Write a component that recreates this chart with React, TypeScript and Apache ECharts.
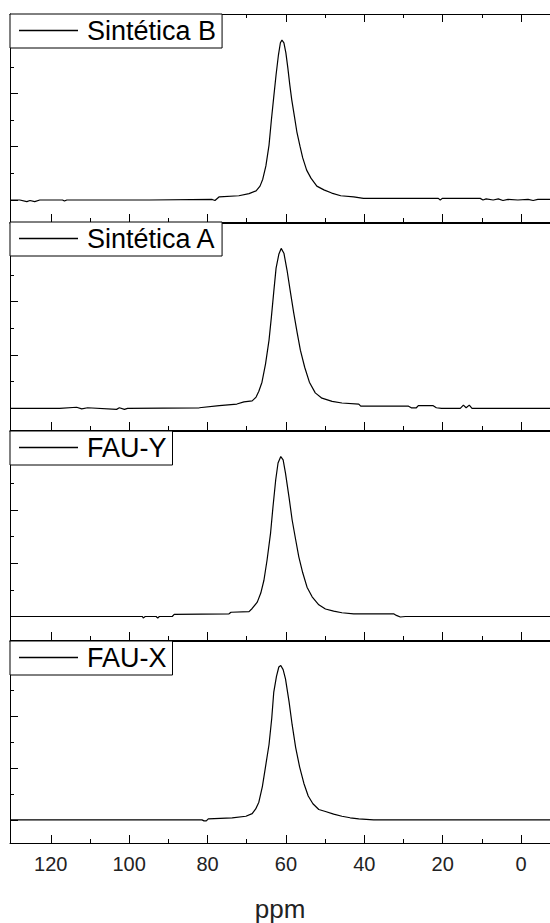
import React, { useEffect, useRef } from "react";
import * as echarts from "echarts";

// 29Si MAS-NMR style spectra, chemical shift (ppm) vs. intensity (a.u.)
const sampleNames = ["Sintética B", "Sintética A", "FAU-Y", "FAU-X"];

const sinteticaB: [number, number][] = [
  [130.4, 0], [127.9, 0], [126.1, -0.03], [125.3, -0.01], [124.1, -0.03], [122.8, 0],
  [117.0, 0], [116.5, -0.02], [115.9, 0], [94.8, 0], [78.8, 0.01], [78.1, -0.01],
  [77.0, 0.06], [72.0, 0.08], [69.4, 0.12], [67.6, 0.17], [66.6, 0.26], [65.9, 0.39],
  [65.1, 0.64], [64.3, 1.03], [63.7, 1.5], [63.1, 1.93], [62.5, 2.35], [61.9, 2.72],
  [61.4, 2.95], [61.0, 3.0], [60.5, 2.95], [60.0, 2.76], [59.5, 2.48], [59.0, 2.16],
  [58.5, 1.88], [57.8, 1.56], [57.2, 1.28], [56.4, 1.01], [55.7, 0.79], [54.7, 0.56],
  [53.6, 0.41], [52.1, 0.26], [50.3, 0.19], [48.3, 0.13], [46.0, 0.08], [42.7, 0.06],
  [40.2, 0.03], [21.1, 0.03], [20.6, 0], [20.1, 0.03], [10.4, 0.03], [9.7, 0],
  [8.9, 0.02], [7.1, 0], [5.8, 0.02], [4.6, -0.01], [3.3, 0.01], [0.8, 0],
  [-1.8, 0.01], [-3.1, -0.01], [-4.3, 0.01], [-7.4, 0.01],
];

const sinteticaA: [number, number][] = [
  [130.4, 0], [117.7, 0], [113.4, 0.02], [112.1, -0.01], [110.6, 0.01], [103.2, -0.02],
  [102.5, 0.01], [101.2, -0.02], [100.4, 0], [82.1, 0.01], [77.0, 0.05], [72.5, 0.08],
  [70.7, 0.12], [68.6, 0.14], [67.6, 0.21], [66.9, 0.32], [66.1, 0.49], [65.2, 0.83],
  [64.3, 1.28], [63.7, 1.71], [63.1, 2.18], [62.5, 2.63], [61.8, 2.89], [61.2, 3.0],
  [60.5, 2.91], [59.7, 2.59], [58.8, 2.16], [58.0, 1.79], [57.1, 1.41], [56.3, 1.09],
  [55.2, 0.77], [54.0, 0.49], [52.5, 0.29], [50.8, 0.19], [48.2, 0.13], [45.7, 0.1],
  [41.4, 0.08], [40.9, 0.04], [28.7, 0.04], [28.0, 0.01], [26.7, 0.01], [26.2, 0.05],
  [22.4, 0.05], [21.6, 0.01], [20.3, 0], [15.5, 0], [14.7, 0.06], [14.0, 0.01],
  [13.2, 0.06], [12.5, 0], [-7.4, 0],
];

const fauY: [number, number][] = [
  [130.4, 0], [96.6, 0], [96.4, -0.03], [95.9, 0], [93.1, 0], [92.7, -0.03],
  [92.3, 0], [89.0, 0], [88.5, 0.04], [74.5, 0.05], [74.0, 0.08], [69.4, 0.09],
  [68.6, 0.15], [67.3, 0.27], [66.4, 0.44], [65.6, 0.68], [64.8, 1.06], [63.9, 1.57],
  [63.3, 2.05], [62.6, 2.56], [62.0, 2.88], [61.3, 3.0], [60.7, 2.94], [60.1, 2.69],
  [59.2, 2.24], [58.4, 1.81], [57.5, 1.44], [56.7, 1.12], [55.7, 0.82], [54.6, 0.55],
  [53.3, 0.37], [51.6, 0.22], [49.9, 0.14], [47.8, 0.1], [45.7, 0.07], [42.7, 0.05],
  [32.5, 0.05], [31.8, 0.02], [30.8, -0.01], [29.5, 0], [-7.4, 0],
];

const fauX: [number, number][] = [
  [130.4, 0], [81.4, 0], [80.9, -0.02], [80.3, -0.02], [79.8, 0.02], [73.7, 0.04],
  [70.2, 0.07], [68.6, 0.12], [67.7, 0.21], [66.9, 0.34], [66.0, 0.64], [65.2, 1.02],
  [64.3, 1.45], [63.6, 1.96], [63.1, 2.45], [62.4, 2.76], [61.8, 2.94], [61.3, 2.97],
  [60.7, 2.89], [60.1, 2.71], [59.2, 2.28], [58.4, 1.83], [57.5, 1.39], [56.5, 1.02],
  [55.4, 0.7], [54.3, 0.46], [53.1, 0.31], [51.6, 0.2], [49.9, 0.16], [47.8, 0.11],
  [45.7, 0.07], [43.6, 0.04], [41.4, 0.02], [37.6, 0], [-7.4, 0],
];

const spectra = [sinteticaB, sinteticaA, fauY, fauX];

// Tick values
const majorPpm = [0, 20, 40, 60, 80, 100, 120];
const minorPpm = [10, 30, 50, 70, 90, 110];
const majorIntensity = [0, 1, 2, 3];
const minorIntensity = [0.5, 1.5, 2.5, 3.5];

// Axis extents
const ppmRange = [-7.4, 130.4];
const intensityRanges = [
  [-0.413, 3.49],
  [-0.407, 3.477],
  [-0.441, 3.48],
  [-0.445, 3.44],
];

const FONT = '"Liberation Sans", Arial, Helvetica, sans-serif';
const panelTops = [14, 223, 431, 641];
const panelHeights = [208, 207, 209, 207];
const legendTops = [14, 222, 431, 641];

function buildOption() {
  const grid: any[] = [];
  const xAxis: any[] = [];
  const yAxis: any[] = [];
  const series: any[] = [];
  const legend: any[] = [];

  const black = { color: "#000", width: 1 };

  spectra.forEach((data, i) => {
    const last = i === spectra.length - 1;
    grid.push({ left: 10, right: -2, top: panelTops[i], height: panelHeights[i], containLabel: false });

    const xBase = {
      type: "value",
      gridIndex: i,
      min: ppmRange[0],
      max: ppmRange[1],
      inverse: true,
      splitLine: { show: false },
      axisPointer: { show: false },
    };

    // bottom frame line with major ticks (and labels on the lowest panel)
    const mainX = xAxis.length;
    xAxis.push({
      ...xBase,
      position: "bottom",
      axisLine: { show: true, onZero: false, lineStyle: black },
      axisTick: { show: true, inside: true, length: 8, customValues: majorPpm, lineStyle: black },
      axisLabel: last
        ? { show: true, customValues: majorPpm, fontSize: 20, color: "#222", margin: 11, fontFamily: FONT }
        : { show: false },
      name: last ? "ppm" : "",
      nameLocation: "middle",
      nameGap: 53,
      nameTextStyle: { fontSize: 26, color: "#222", fontFamily: FONT },
    });
    // bottom minor ticks
    xAxis.push({
      ...xBase,
      position: "bottom",
      axisLine: { show: false, onZero: false },
      axisTick: { show: true, inside: true, length: 4, customValues: minorPpm, lineStyle: black },
      axisLabel: { show: false },
    });
    // top frame line
    xAxis.push({
      ...xBase,
      position: "top",
      axisLine: { show: true, onZero: false, lineStyle: black },
      axisTick: i === 0
        ? { show: true, inside: true, length: 8, customValues: majorPpm, lineStyle: black }
        : { show: false },
      axisLabel: { show: false },
    });
    if (i === 0) {
      xAxis.push({
        ...xBase,
        position: "top",
        axisLine: { show: false, onZero: false },
        axisTick: { show: true, inside: true, length: 4, customValues: minorPpm, lineStyle: black },
        axisLabel: { show: false },
      });
    }

    const yBase = {
      type: "value",
      gridIndex: i,
      position: "left",
      min: intensityRanges[i][0],
      max: intensityRanges[i][1],
      splitLine: { show: false },
      axisLabel: { show: false },
      axisPointer: { show: false },
    };
    const mainY = yAxis.length;
    yAxis.push({
      ...yBase,
      axisLine: { show: true, onZero: false, lineStyle: black },
      axisTick: { show: true, inside: true, length: 8, customValues: majorIntensity, lineStyle: black },
    });
    yAxis.push({
      ...yBase,
      axisLine: { show: false, onZero: false },
      axisTick: { show: true, inside: true, length: 4, customValues: minorIntensity, lineStyle: black },
    });

    series.push({
      type: "line",
      name: sampleNames[i],
      data,
      xAxisIndex: mainX,
      yAxisIndex: mainY,
      symbol: "none",
      showSymbol: false,
      silent: true,
      clip: true,
      lineStyle: { color: "#000", width: 1.2 },
      itemStyle: { color: "#000" },
    });

    // legend key: a plain thin bar standing in for the line sample
    legend.push({
      data: [sampleNames[i]],
      left: 10,
      top: legendTops[i],
      orient: "horizontal",
      icon: "rect",
      itemWidth: 59,
      itemHeight: 1.4,
      padding: [3, 6, 4, 9],
      borderColor: "#000",
      borderWidth: 1,
      borderRadius: 0,
      backgroundColor: "#fff",
      selectedMode: false,
      itemStyle: { color: "#000", borderWidth: 0 },
      textStyle: { fontSize: 27, color: "#000", fontFamily: FONT, padding: [0, 0, 0, 4] },
    });
  });

  return {
    animation: false,
    backgroundColor: "#fff",
    textStyle: { fontFamily: FONT },
    grid,
    xAxis,
    yAxis,
    series,
    legend,
  };
}

export default function App() {
  const ref = useRef<HTMLDivElement>(null);

  useEffect(() => {
    if (!ref.current) return;
    const chart = echarts.init(ref.current, null, { renderer: "svg" });
    chart.setOption(buildOption() as any);
    return () => chart.dispose();
  }, []);

  return (
    <div
      ref={ref}
      style={{ position: "fixed", left: 0, top: 0, width: 550, height: 923, background: "#fff" }}
    />
  );
}
